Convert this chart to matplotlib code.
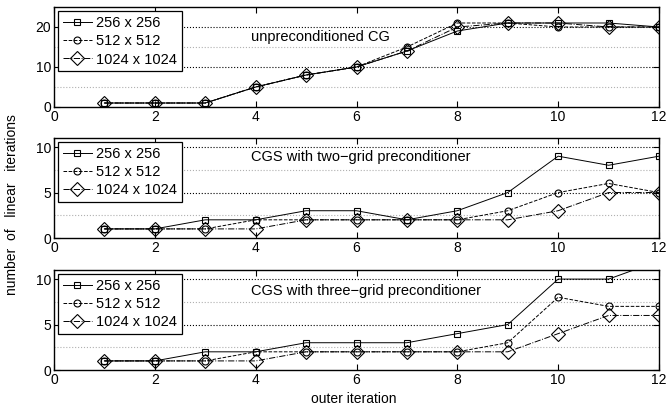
import matplotlib
matplotlib.use('Agg')
import matplotlib.pyplot as plt

plt.rcParams['font.family'] = ['Liberation Sans', 'DejaVu Sans']
plt.rcParams['font.size'] = 10

outer = [1, 2, 3, 4, 5, 6, 7, 8, 9, 10, 11, 12]
labels = ['256 x 256', '512 x 512', '1024 x 1024']

# unpreconditioned CG
cg_256 = [1, 1, 1, 5, 8, 10, 14, 19, 21, 21, 21, 20]
cg_512 = [1, 1, 1, 5, 8, 10, 15, 21, 21, 20, 20, 20]
cg_1024 = [1, 1, 1, 5, 8, 10, 14, 20, 21, 21, 20, 20]

# CGS, two-grid preconditioner
two_256 = [1, 1, 2, 2, 3, 3, 2, 3, 5, 9, 8, 9]
two_512 = [1, 1, 1, 2, 2, 2, 2, 2, 3, 5, 6, 5]
two_1024 = [1, 1, 1, 1, 2, 2, 2, 2, 2, 3, 5, 5]

# CGS, three-grid preconditioner
three_256 = [1, 1, 2, 2, 3, 3, 3, 4, 5, 10, 10, 12]
three_512 = [1, 1, 1, 2, 2, 2, 2, 2, 3, 8, 7, 7]
three_1024 = [1, 1, 1, 1, 2, 2, 2, 2, 2, 4, 6, 6]

panels = [
    ('unpreconditioned CG', [cg_256, cg_512, cg_1024], 25, [0, 10, 20], [5, 10, 15, 20], 17.6),
    ('CGS with two\u2212grid preconditioner', [two_256, two_512, two_1024], 11, [0, 5, 10], [2.5, 5, 7.5, 10], 8.9),
    ('CGS with three\u2212grid preconditioner', [three_256, three_512, three_1024], 11, [0, 5, 10], [2.5, 5, 7.5, 10], 8.7),
]
styles = [('-', 's', 4.5), ('--', 'o', 5), ('-.', 'D', 7)]

fig = plt.figure(figsize=(6.68, 4.09), dpi=100)
tops = [7, 138, 270]
for i, (title, series, ymax, yt, grid, ty) in enumerate(panels):
    top = tops[i]
    ax = fig.add_axes([54/668, 1 - (top + 100)/409, 605/668, 100/409])
    for j, s in enumerate(series):
        ls, mk, ms = styles[j]
        ax.plot(outer, s, color='black', ls=ls, lw=0.7, marker=mk, ms=ms,
                mfc='none', mec='black', mew=0.8, label=labels[j])
    for k, g in enumerate(grid):
        dark = (k % 2 == 1)
        ax.axhline(g, color='black' if dark else '#b0b0b0', ls=':', lw=0.8, zorder=0)
    ax.set_xlim(0, 12)
    ax.set_ylim(0, ymax)
    ax.set_xticks(range(0, 13, 2))
    ax.set_yticks(yt)
    ax.tick_params(direction='in', top=True, right=True, length=4, width=0.8, pad=2,
                   labelsize=10)
    for sp in ax.spines.values():
        sp.set_linewidth(1.0)
    ax.text(3.9, ty, title, va='center', ha='left', fontsize=10.5)
    leg = ax.legend(loc='upper left', borderaxespad=0.3, fancybox=False, framealpha=1,
                    edgecolor='black', numpoints=1, handlelength=2.0, handletextpad=0.3,
                    borderpad=0.3, labelspacing=0.3, fontsize=10.5)
    leg.get_frame().set_linewidth(0.9)

fig.text(12/668, 0.5, 'number  of   linear   iterations', rotation=90, va='center', ha='center',
         fontsize=10)
fig.text(354/668, 1 - 399/409, 'outer iteration', ha='center', va='center', fontsize=10)
fig.savefig('out.png', dpi=100)
